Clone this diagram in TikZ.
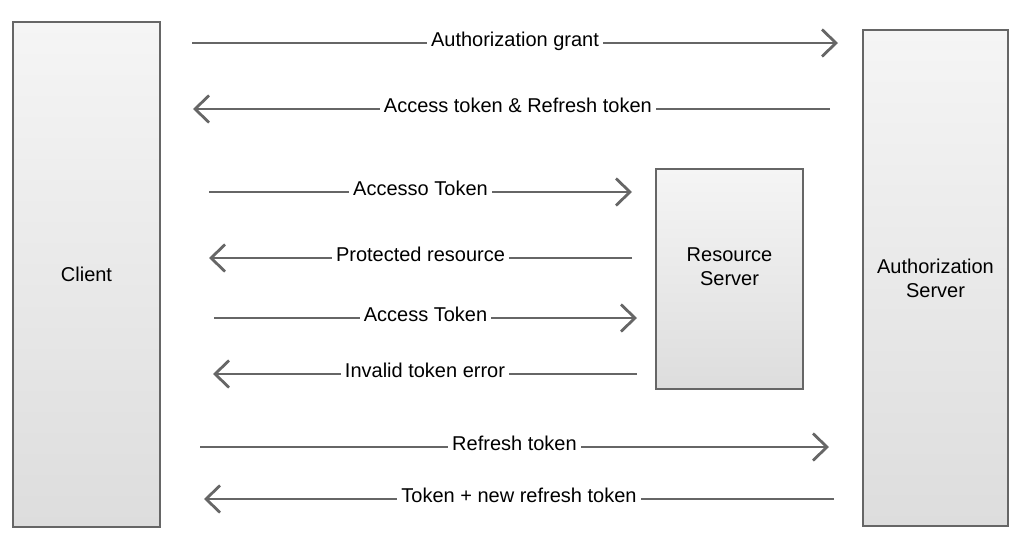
\documentclass[tikz,border=0pt]{standalone}
\usepackage{fontspec}
\setmainfont{Liberation Sans}
\usetikzlibrary{arrows.meta}

\definecolor{boxtop}{RGB}{245,245,245}
\definecolor{boxbot}{RGB}{221,221,221}
\definecolor{edge}{RGB}{102,102,102}

\tikzset{
  srvbox/.style={draw=edge, line width=2pt, shade, top color=boxtop, bottom color=boxbot,
    align=center, inner sep=0pt, font=\fontsize{20}{24}\selectfont},
  msg/.style={draw=edge, line width=2.8pt, -{Straight Barb[length=14pt, width=27pt, line width=2.8pt]}},
  lbl/.style={fill=white, inner xsep=4pt, inner ysep=0pt, text height=14pt, text depth=4pt,
    yshift=1.5pt, font=\fontsize{20}{24}\selectfont}
}

\begin{document}
\begin{tikzpicture}[x=1pt, y=-1pt]
\useasboundingbox (0,0) rectangle (1023,538);
% the three parties
\node[srvbox, minimum width=147, minimum height=505] (client) at (86.5,274.5) {Client};
\node[srvbox, minimum width=145, minimum height=496] (authsrv) at (935.5,278) {Authorization\\Server};
\node[srvbox, minimum width=147, minimum height=220,
  label={[align=center, yshift=12pt, font=\fontsize{20}{24}\selectfont]center:Resource\\Server}] (ressrv) at (729.5,279) {};
% ends of the messages
\coordinate (grantA) at (192,43);   \coordinate (grantB) at (838,43);
\coordinate (tokA) at (830,109);    \coordinate (tokB) at (193,109);
\coordinate (useA) at (209,192);    \coordinate (useB) at (632,192);
\coordinate (protA) at (632,258);   \coordinate (protB) at (209,258);
\coordinate (useC) at (214,318);    \coordinate (useD) at (637,318);
\coordinate (errA) at (637,374);    \coordinate (errB) at (213,374);
\coordinate (refA) at (200,447);    \coordinate (refB) at (829,447);
\coordinate (newA) at (834,499);    \coordinate (newB) at (204,499);
% messages
\draw[msg] (grantA) -- node[lbl] {Authorization grant} (grantB);
\draw[msg] (tokA) -- node[lbl, pos=0.49] {Access token \& Refresh token} (tokB);
\draw[msg] (useA) -- node[lbl] {Accesso Token} (useB);
\draw[msg] (protA) -- node[lbl] {Protected resource} (protB);
\draw[msg] (useC) -- node[lbl] {Access Token} (useD);
\draw[msg] (errA) -- node[lbl] {Invalid token error} (errB);
\draw[msg] (refA) -- node[lbl] {Refresh token} (refB);
\draw[msg] (newA) -- node[lbl] {Token + new refresh token} (newB);
\end{tikzpicture}
\end{document}
